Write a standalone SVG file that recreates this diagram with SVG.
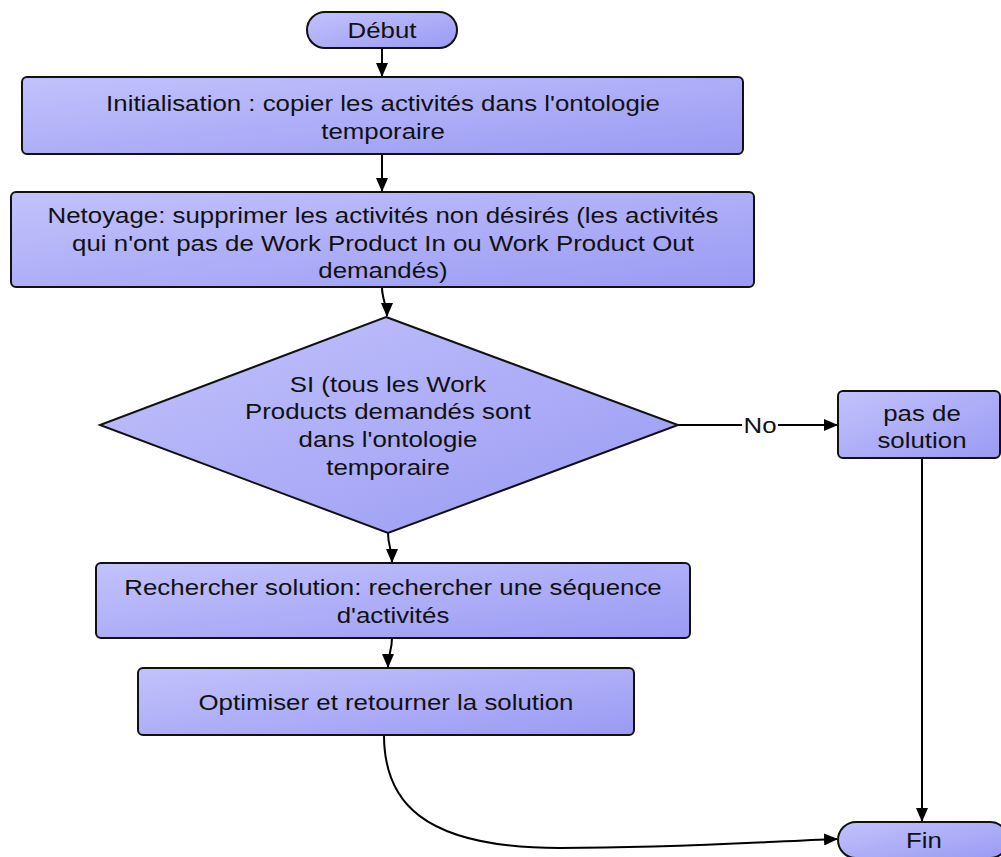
<svg xmlns="http://www.w3.org/2000/svg" width="1001" height="857" viewBox="0 0 1001 857">
<defs>
<linearGradient id="g" x1="0" y1="0" x2="1" y2="1">
<stop offset="0" stop-color="#c2c2fc"/>
<stop offset="1" stop-color="#9a9af4"/>
</linearGradient>
<marker id="ah" markerWidth="14" markerHeight="12" refX="13" refY="6" orient="auto" markerUnits="userSpaceOnUse" viewBox="0 0 14 12">
<path d="M0,0 L14,6 L0,12 z" fill="#000"/>
</marker>
</defs>
<style>
.n{fill:url(#g);stroke:#111;stroke-width:2}
.t{font-family:"Liberation Sans",Arial,sans-serif;font-size:22px;fill:#111;text-anchor:middle;transform-box:fill-box;transform-origin:center;transform:scaleX(1.175)}
.c{fill:none;stroke:#000;stroke-width:2}
</style>
<rect width="1001" height="857" fill="#fff"/>
<g id="connectors">
<path class="c" d="M382,48 L382,76" marker-end="url(#ah)"/>
<path class="c" d="M382,154 L382,191" marker-end="url(#ah)"/>
<path class="c" d="M382,287 C382,300 387,305 387,316" marker-end="url(#ah)"/>
<path class="c" d="M678,425 L742,425 M778,425 L837,425" marker-end="url(#ah)"/>
<text class="t" x="760" y="433">No</text>
<path class="c" d="M388,533 C388,545 392,550 392,562" marker-end="url(#ah)"/>
<path class="c" d="M392,638 C392,650 388,655 388,667" marker-end="url(#ah)"/>
<path class="c" d="M922,458 L922,821" marker-end="url(#ah)"/>
<path class="c" d="M384,735 C384,800 420,848 560,848 C680,848 760,842 837,839" marker-end="url(#ah)"/>
</g>
<g id="debut">
<rect class="n" x="307" y="12" width="150" height="36" rx="18"/>
<text class="t" x="382" y="38">Début</text>
</g>
<g id="init">
<rect class="n" x="22" y="77" width="721" height="77" rx="5"/>
<text class="t" x="383" y="111">Initialisation : copier les activités dans l'ontologie</text>
<text class="t" x="383" y="139">temporaire</text>
</g>
<g id="netoyage">
<rect class="n" x="11" y="192" width="743" height="95" rx="5"/>
<text class="t" x="383" y="223">Netoyage: supprimer les activités non désirés (les activités</text>
<text class="t" x="383" y="251">qui n'ont pas de Work Product In ou Work Product Out</text>
<text class="t" x="383" y="278">demandés)</text>
</g>
<g id="decision">
<polygon class="n" points="386,317 678,425 388,533 100,425"/>
<text class="t" x="388" y="392">SI (tous les Work</text>
<text class="t" x="388" y="419">Products demandés sont</text>
<text class="t" x="388" y="447">dans l'ontologie</text>
<text class="t" x="388" y="475">temporaire</text>
</g>
<g id="pasdesolution">
<rect class="n" x="838" y="391" width="162" height="67" rx="5"/>
<text class="t" x="922" y="421">pas de</text>
<text class="t" x="922" y="448">solution</text>
</g>
<g id="rechercher">
<rect class="n" x="96" y="563" width="594" height="75" rx="5"/>
<text class="t" x="393" y="595">Rechercher solution: rechercher une séquence</text>
<text class="t" x="393" y="623">d'activités</text>
</g>
<g id="optimiser">
<rect class="n" x="138" y="668" width="496" height="67" rx="5"/>
<text class="t" x="386" y="710">Optimiser et retourner la solution</text>
</g>
<g id="fin">
<rect class="n" x="838" y="822" width="170" height="36" rx="18"/>
<text class="t" x="924" y="848">Fin</text>
</g>
</svg>
